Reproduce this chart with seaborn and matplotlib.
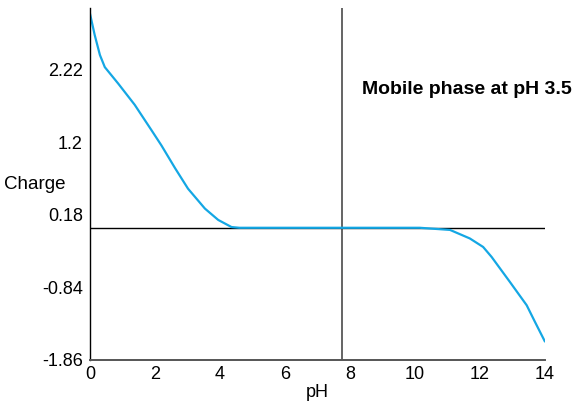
import matplotlib
matplotlib.use("Agg")
import matplotlib.pyplot as plt
import seaborn as sns
import pandas as pd

# Net charge of the analyte versus pH
ph_values = [0.0, 0.15, 0.31, 0.46, 0.87, 1.38, 1.9, 2.2, 2.62, 3.02, 3.54, 3.95, 4.36, 4.6,
             6.0, 8.0, 10.15, 11.08, 11.69, 12.1, 12.36, 12.92, 13.44, 13.69, 14.0]
charge_values = [3.02, 2.71, 2.43, 2.26, 2.03, 1.73, 1.37, 1.16, 0.84, 0.55, 0.27, 0.11, 0.01, 0.0,
                 0.0, 0.0, 0.0, -0.03, -0.15, -0.27, -0.41, -0.76, -1.09, -1.32, -1.6]

y_ticks = [2.22, 1.2, 0.18, -0.84, -1.86]
x_ticks = [0, 2, 4, 6, 8, 10, 12, 14]
mobile_phase_ph = 7.75
annotation = "Mobile phase at pH 3.5"

sns.set_style("white")
plt.rcParams["font.family"] = ["Liberation Sans", "DejaVu Sans"]
plt.rcParams["text.color"] = "black"
plt.rcParams["axes.labelcolor"] = "black"

df = pd.DataFrame({"pH": ph_values, "Charge": charge_values})

fig = plt.figure(figsize=(5.76, 4.07), dpi=100)
ax = fig.add_axes([0.156, 0.1155, 0.79, 0.8645])

sns.lineplot(data=df, x="pH", y="Charge", ax=ax, color="#14a7e4", linewidth=1.6)

ax.axhline(0, color="black", linewidth=1.0, zorder=1)
ax.axvline(mobile_phase_ph, color="#3a3a3a", linewidth=1.1, zorder=1)

ax.set_xlim(0, 14)
ax.set_ylim(-1.86, 3.09)
ax.set_xticks(x_ticks)
ax.set_yticks(y_ticks)
ax.set_yticklabels([str(t) for t in y_ticks])
ax.tick_params(axis="both", length=0, labelsize=13, colors="black")
ax.tick_params(axis="y", pad=5)
ax.tick_params(axis="x", pad=4)

for side in ("top", "right"):
    ax.spines[side].set_visible(False)
ax.spines["left"].set_color("black")
ax.spines["left"].set_linewidth(1.0)
ax.spines["bottom"].set_color("#555555")
ax.spines["bottom"].set_linewidth(1.4)

ax.set_xlabel("pH", fontsize=13, labelpad=1)
ax.set_ylabel("Charge", fontsize=13.5, rotation=0, ha="center", va="center")
ax.yaxis.set_label_coords(-0.121, 0.5)

ax.text(8.37, 1.95, annotation, fontsize=14, fontweight="bold", color="black",
        va="center", ha="left", clip_on=False)

fig.savefig("out.png", dpi=100)
